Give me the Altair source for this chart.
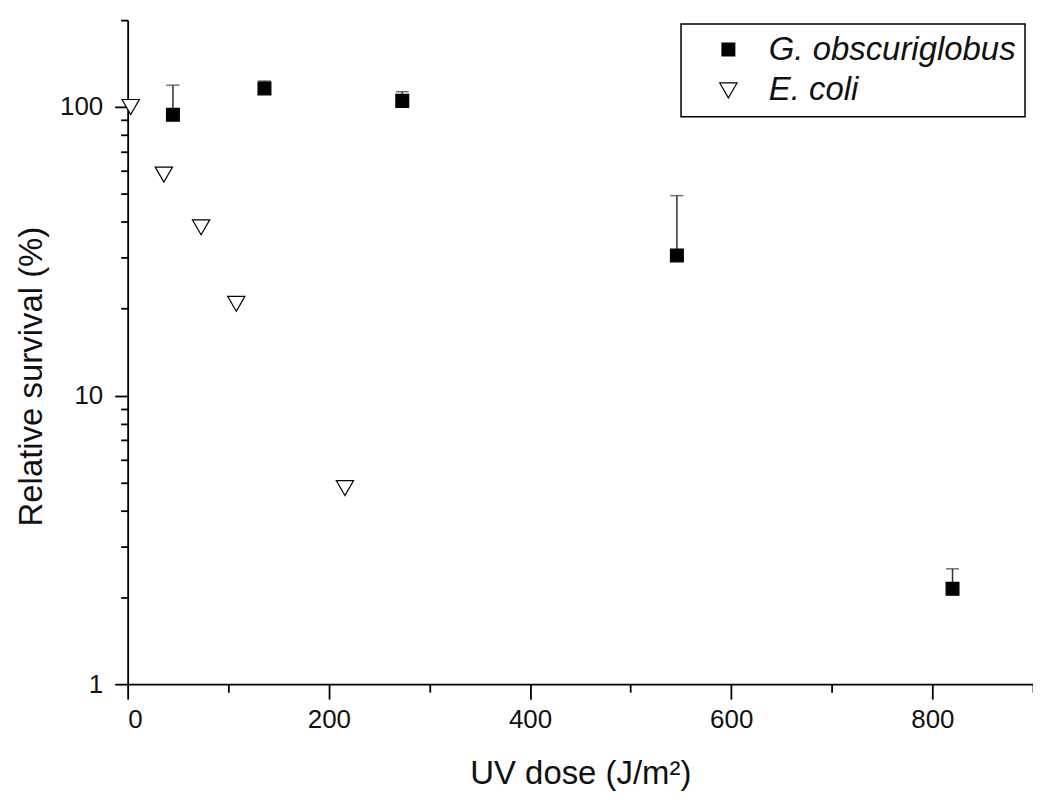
import altair as alt
import pandas as pd

# --- data ---
g_dose = [45, 136, 273, 546, 820]
g_surv = [94, 116, 105, 30.6, 2.14]
g_upper = [119, 123, 113, 49.3, 2.51]

e_dose = [3, 36, 73, 108, 216]
e_surv = [100, 58.3, 38.3, 20.8, 4.78]

series = ["G. obscuriglobus", "E. coli"]

x_major = [0, 200, 400, 600, 800]
x_minor = [100, 300, 500, 700, 900]
y_major = [1, 10, 100]
y_minor = [2, 3, 4, 5, 6, 7, 8, 9, 20, 30, 40, 50, 60, 70, 80, 90, 200]

pts = pd.DataFrame({
    "dose": g_dose + e_dose,
    "surv": g_surv + e_surv,
    "series": [series[0]] * len(g_dose) + [series[1]] * len(e_dose),
})
err = pd.DataFrame({"dose": g_dose, "surv": g_surv, "upper": g_upper})

FONT = "Liberation Sans"

x_scale = alt.Scale(domain=[0, 900], nice=False, zero=False)
y_scale = alt.Scale(type="log", domain=[1, 200], nice=False)

x_axis_major = alt.Axis(
    orient="bottom",
    title="UV dose (J/m²)",
    values=x_major,
    format="d",
    tickSize=15,
    labelPadding=7,
    titleBaseline="alphabetic",
    titleY=100,
    grid=False,
)
y_axis_major = alt.Axis(
    orient="left",
    title="Relative survival (%)",
    values=y_major,
    format="d",
    tickSize=13,
    labelPadding=12,
    titleBaseline="alphabetic",
    titleX=-86,
    titleY=357,
    grid=False,
)
x_axis_minor = alt.Axis(orient="bottom", title=None, values=x_minor, labels=False,
                        domain=False, tickSize=8, tickCount=100, grid=False)
y_axis_minor = alt.Axis(orient="left", title=None, values=y_minor, labels=False,
                        domain=False, tickSize=7, tickCount=100, grid=False)

# upper error bars; this layer also carries the minor-tick axes
rules = alt.Chart(err).mark_rule(color="#333333", strokeWidth=1.5).encode(
    x=alt.X("dose:Q", scale=x_scale, axis=x_axis_minor),
    y=alt.Y("surv:Q", scale=y_scale, axis=y_axis_minor),
    y2="upper:Q",
)
caps = alt.Chart(err).mark_tick(orient="horizontal", color="#333333", size=13, thickness=1.5).encode(
    x=alt.X("dose:Q", scale=x_scale, axis=None),
    y=alt.Y("upper:Q", scale=y_scale, axis=None),
)

points = alt.Chart(pts).mark_point(strokeWidth=1.2, opacity=1, fillOpacity=1).encode(
    x=alt.X("dose:Q", scale=x_scale, axis=x_axis_major),
    y=alt.Y("surv:Q", scale=y_scale, axis=y_axis_major),
    shape=alt.Shape("series:N", scale=alt.Scale(domain=series, range=["square", "triangle-down"]),
                    legend=alt.Legend(title=None)),
    fill=alt.Fill("series:N", scale=alt.Scale(domain=series, range=["black", "white"]),
                  legend=alt.Legend(title=None)),
    stroke=alt.Stroke("series:N", scale=alt.Scale(domain=series, range=["black", "black"]),
                      legend=alt.Legend(title=None)),
    size=alt.Size("series:N", scale=alt.Scale(domain=series, range=[165, 300]),
                  legend=alt.Legend(title=None)),
)

chart = (
    alt.layer(rules, caps, points)
    .resolve_axis(x="independent", y="independent")
    .properties(
        width=908,
        height=666,
        autosize=alt.AutoSizeParams(type="none"),
        padding={"left": 120, "top": 11, "right": 0, "bottom": 110},
    )
    .configure(font=FONT)
    .configure_view(strokeWidth=0)
    .configure_axis(
        domainColor="black",
        domainWidth=1.8,
        tickColor="black",
        tickWidth=1.8,
        labelFont=FONT,
        labelFontSize=26,
        labelColor="#111111",
        titleFont=FONT,
        titleFontSize=33,
        titleFontWeight="normal",
        titleColor="#111111",
    )
    .configure_legend(
        orient="none",
        legendX=555,
        legendY=4,
        strokeColor="black",
        strokeWidth=1.5,
        fillColor="white",
        padding=9,
        symbolOffset=22,
        labelFont=FONT,
        labelFontSize=33,
        labelFontStyle="italic",
        labelColor="#111111",
        labelOffset=24,
        rowPadding=7,
        symbolStrokeWidth=1.2,
        labelLimit=500,
    )
)

chart.save("out.html", embed_options={"renderer": "svg", "actions": False})
